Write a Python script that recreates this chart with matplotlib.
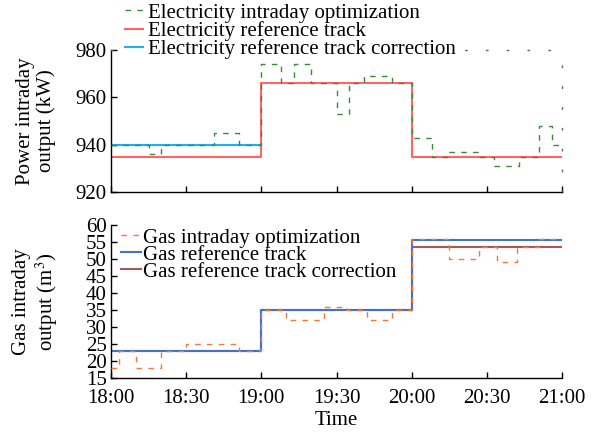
import matplotlib.pyplot as plt

plt.rcParams['font.family'] = ['Liberation Serif', 'DejaVu Serif']
plt.rcParams['mathtext.fontset'] = 'stix'

# time axis in minutes after 18:00
tick_minutes = [0, 30, 60, 90, 120, 150, 180]
tick_labels = ['18:00', '18:30', '19:00', '19:30', '20:00', '20:30', '21:00']

# electricity (kW)
elec_ref_t = [0, 60, 120, 180]
elec_ref_v = [935, 966, 935, 935]
elec_cor_t = [0, 60]
elec_cor_v = [940, 940]
elec_opt_t = [0, 15, 20, 41, 51, 60, 68, 73, 80, 90, 95, 101, 112, 120, 128, 135, 147, 153, 163, 171, 176, 180]
elec_opt_v = [940, 936, 940, 945, 940, 974, 966, 974, 966, 953, 966, 969, 966, 943, 935, 937, 935, 931, 935, 948, 940, 940]

# gas (m3)
gas_ref_t = [0, 60, 120, 180]
gas_ref_v = [23, 35, 55.5, 55.5]
gas_cor_t = [0, 60, 120, 180]
gas_cor_v = [23, 35, 53.5, 53.5]
gas_opt_t = [0, 3, 10, 20, 30, 51, 60, 70, 85, 94, 102, 112, 120, 135, 147, 154, 162, 171, 180]
gas_opt_v = [18, 23, 18, 23, 25, 23, 35, 32, 36, 35, 32, 35, 56, 50, 53.5, 49, 53.5, 56, 56]

W, H = 598, 434
fig = plt.figure(figsize=(W / 100, H / 100), dpi=100)
ax1 = fig.add_axes([111 / W, 1 - 192 / H, 451 / W, 142 / H])
ax2 = fig.add_axes([111 / W, 1 - 378 / H, 451 / W, 153 / H])

fs = 15
dash = (0, (4, 4.5))

# top panel
ax1.plot(elec_ref_t, elec_ref_v, drawstyle='steps-post', color='#ff4a4a', lw=1.5, alpha=0.85,
         label='Electricity reference track', zorder=2)
ax1.plot(elec_cor_t, elec_cor_v, drawstyle='steps-post', color='#1ab2ee', lw=1.5,
         label='Electricity reference track correction', zorder=2)
ax1.plot(elec_opt_t, elec_opt_v, drawstyle='steps-post', color='#3a8a3a', lw=1.0, ls=dash,
         label='Electricity intraday optimization', zorder=3)

# bottom panel
ax2.plot(gas_cor_t, gas_cor_v, drawstyle='steps-post', color='#a85858', lw=1.5,
         label='Gas reference track correction', zorder=2)
ax2.plot(gas_ref_t, gas_ref_v, drawstyle='steps-post', color='#4472c4', lw=1.5,
         label='Gas reference track', zorder=2)
ax2.plot(gas_opt_t, gas_opt_v, drawstyle='steps-post', color='#f07a3a', lw=1.0, ls=dash,
         label='Gas intraday optimization', zorder=3)

for ax in (ax1, ax2):
    ax.set_xlim(0, 180)
    ax.set_xticks(tick_minutes)
    ax.tick_params(direction='in', length=4, width=1, labelsize=fs, pad=3)
    ax.spines['left'].set_linewidth(1)
    ax.spines['bottom'].set_linewidth(1)

ax1.set_xticklabels([])
ax2.set_xticklabels(tick_labels)
ax2.tick_params(axis='x', pad=8)
ax1.set_ylim(920, 980)
ax1.set_yticks([920, 940, 960, 980])
ax2.set_ylim(15, 60)
ax2.set_yticks(range(15, 61, 5))

# dotted outer box on the power panel
for side in ('top', 'right'):
    ax1.spines[side].set_linestyle((0, (1, 14)))
    ax1.spines[side].set_color('#666666')
    ax1.spines[side].set_linewidth(1)
    ax2.spines[side].set_visible(False)

ax2.set_xlabel('Time', fontsize=fs, labelpad=2)

fig.text(36 / W, 1 - 121 / H, 'Power intraday\noutput (kW)', rotation=90, ha='center', va='center',
         fontsize=fs, linespacing=1.15, multialignment='center')
fig.text(36 / W, 1 - 302 / H, 'Gas intraday\noutput (m$^3$)', rotation=90, ha='center', va='center',
         fontsize=fs, linespacing=1.15, multialignment='center')

h, l = ax1.get_legend_handles_labels()
order = [2, 0, 1]
leg1 = ax1.legend([h[i] for i in order], [l[i] for i in order], loc='upper left',
                  bbox_to_anchor=(125 / W, 1 - 3 / H), bbox_transform=fig.transFigure,
                  fontsize=fs, frameon=True, facecolor='white', edgecolor='none', framealpha=1,
                  borderpad=0, borderaxespad=0, labelspacing=-0.07, handlelength=0.85, handletextpad=0.25)
leg1.set_zorder(5)

h, l = ax2.get_legend_handles_labels()
order = [2, 1, 0]
leg2 = ax2.legend([h[i] for i in order], [l[i] for i in order], loc='upper left',
                  bbox_to_anchor=(121 / W, 1 - 228 / H), bbox_transform=fig.transFigure,
                  fontsize=fs, frameon=True, facecolor='white', edgecolor='none', framealpha=1,
                  borderpad=0, borderaxespad=0, labelspacing=-0.12, handlelength=0.95, handletextpad=0.1)
leg2.set_zorder(5)

fig.savefig('out.png', dpi=100)
